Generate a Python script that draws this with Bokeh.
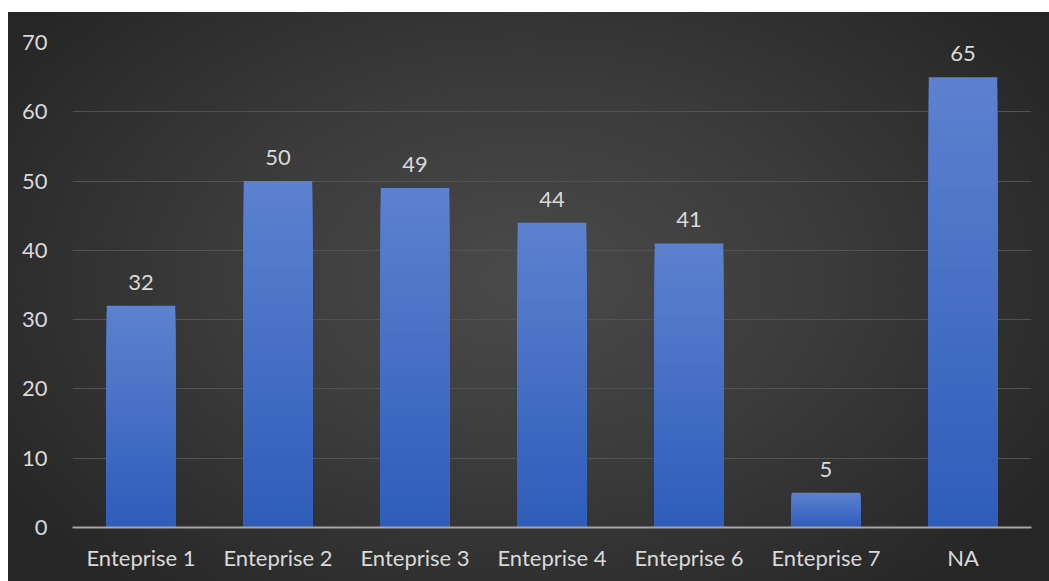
from bokeh.plotting import figure
from bokeh.models import ColumnDataSource, FactorRange, Range1d, FixedTicker
from bokeh.core.properties import value
from bokeh.embed import file_html
from bokeh.resources import INLINE
import numpy as np

categories = ["Enteprise 1", "Enteprise 2", "Enteprise 3", "Enteprise 4",
              "Enteprise 6", "Enteprise 7", "NA"]
counts = [32, 50, 49, 44, 41, 5, 65]
y_ticks = [0, 10, 20, 30, 40, 50, 60, 70]

FONT = "Lato"
TEXT_COLOR = "#d9d9d9"
TOP_RGB = np.array([0x5c, 0x81, 0xcf])
BOT_RGB = np.array([0x2e, 0x5c, 0xba])

p = figure(x_range=FactorRange(*categories, range_padding=0),
           y_range=Range1d(0, 70),
           width=1049, height=581,
           output_backend="svg", toolbar_location=None,
           min_border_left=72, min_border_right=18,
           min_border_top=42, min_border_bottom=54)

p.styles = {"background": (
    "linear-gradient(#ffffff, #ffffff) left top / 8px 100% no-repeat, "
    "linear-gradient(#ffffff, #ffffff) left top / 100% 12px no-repeat, "
    "radial-gradient(ellipse 60% 70% at 50% 48%, #4a4a4a 0%, #3c3c3c 45%, #262626 100%)")}
p.background_fill_color = None
p.border_fill_color = None
p.outline_line_color = None

# gradient bars: layered rectangles, each drawn from 0 to a fraction of the value
N = 40
xs, tops, colors = [], [], []
for k in range(N, 0, -1):
    frac = k / N
    rgb = BOT_RGB + (TOP_RGB - BOT_RGB) * frac
    col = "#%02x%02x%02x" % tuple(int(round(c)) for c in rgb)
    for c, v in zip(categories, counts):
        xs.append(c)
        tops.append(v * frac)
        colors.append(col)
src = ColumnDataSource(dict(x=xs, top=tops, color=colors))
p.vbar(x="x", top="top", bottom=0, width=0.5, source=src,
       fill_color="color", line_color=None)

# data labels
lab = ColumnDataSource(dict(x=categories, y=counts, t=[str(v) for v in counts]))
p.text(x="x", y="y", text="t", source=lab, text_align="center",
       text_baseline="bottom", y_offset=-16, text_color=TEXT_COLOR,
       text_font=value(FONT), text_font_size="22px")

# axes
p.xgrid.grid_line_color = None
p.ygrid.grid_line_color = "#525252"
p.ygrid.grid_line_width = 1
p.yaxis.ticker = FixedTicker(ticks=y_ticks)
p.yaxis.axis_line_color = None
p.yaxis.major_tick_line_color = None
p.yaxis.minor_tick_line_color = None
p.yaxis.major_label_standoff = 19
p.xaxis.axis_line_color = "#a6a6a6"
p.xaxis.axis_line_width = 2
p.xaxis.major_tick_line_color = None
p.xaxis.minor_tick_line_color = None
p.xaxis.major_label_standoff = 10
for ax in (p.xaxis[0], p.yaxis[0]):
    ax.major_label_text_color = TEXT_COLOR
    ax.major_label_text_font = FONT
    ax.major_label_text_font_size = "22px"

open("out.html", "w").write(file_html(p, INLINE))
